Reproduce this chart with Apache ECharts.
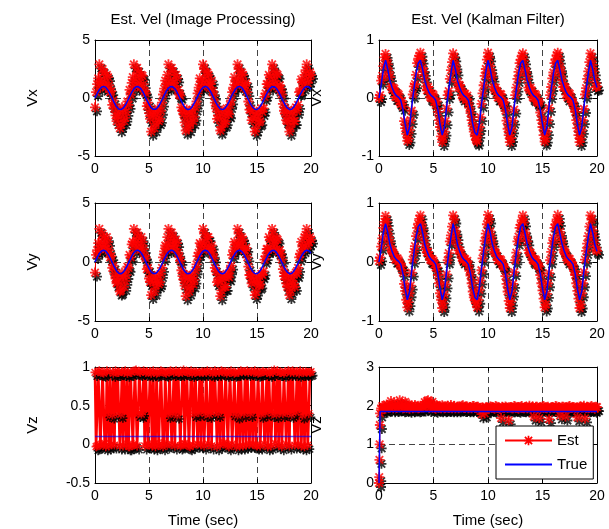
<!DOCTYPE html>
<html>
<head>
<meta charset="utf-8">
<title>Est. Vel</title>
<script src="https://cdn.jsdelivr.net/npm/echarts@6/dist/echarts.min.js"></script>
<style>
  html, body { margin: 0; padding: 0; background: #fff; }
  #chart { width: 609px; height: 529px; }
</style>
</head>
<body>
<div id="chart"></div>
<script>
// sample times (sec): even samples every 0.2 s, plus the in-between ones
const tAxis = [
  0, 0.2, 0.4, 0.6, 0.8, 1, 1.2, 1.4, 1.6, 1.8,
  2, 2.2, 2.4, 2.6, 2.8, 3, 3.2, 3.4, 3.6, 3.8,
  4, 4.2, 4.4, 4.6, 4.8, 5, 5.2, 5.4, 5.6, 5.8,
  6, 6.2, 6.4, 6.6, 6.8, 7, 7.2, 7.4, 7.6, 7.8,
  8, 8.2, 8.4, 8.6, 8.8, 9, 9.2, 9.4, 9.6, 9.8,
  10, 10.2, 10.4, 10.6, 10.8, 11, 11.2, 11.4, 11.6, 11.8,
  12, 12.2, 12.4, 12.6, 12.8, 13, 13.2, 13.4, 13.6, 13.8,
  14, 14.2, 14.4, 14.6, 14.8, 15, 15.2, 15.4, 15.6, 15.8,
  16, 16.2, 16.4, 16.6, 16.8, 17, 17.2, 17.4, 17.6, 17.8,
  18, 18.2, 18.4, 18.6, 18.8, 19, 19.2, 19.4, 19.6, 19.8,
  20
];
const tMid = [
  0.1, 0.3, 0.5, 0.7, 0.9, 1.1, 1.3, 1.5, 1.7, 1.9,
  2.1, 2.3, 2.5, 2.7, 2.9, 3.1, 3.3, 3.5, 3.7, 3.9,
  4.1, 4.3, 4.5, 4.7, 4.9, 5.1, 5.3, 5.5, 5.7, 5.9,
  6.1, 6.3, 6.5, 6.7, 6.9, 7.1, 7.3, 7.5, 7.7, 7.9,
  8.1, 8.3, 8.5, 8.7, 8.9, 9.1, 9.3, 9.5, 9.7, 9.9,
  10.1, 10.3, 10.5, 10.7, 10.9, 11.1, 11.3, 11.5, 11.7, 11.9,
  12.1, 12.3, 12.5, 12.7, 12.9, 13.1, 13.3, 13.5, 13.7, 13.9,
  14.1, 14.3, 14.5, 14.7, 14.9, 15.1, 15.3, 15.5, 15.7, 15.9,
  16.1, 16.3, 16.5, 16.7, 16.9, 17.1, 17.3, 17.5, 17.7, 17.9,
  18.1, 18.3, 18.5, 18.7, 18.9, 19.1, 19.3, 19.5, 19.7, 19.9
];
// start-up of the kalman Vz run is sampled densely
const tRise = [0, 0.02, 0.04, 0.06, 0.08];
const tEnds = [0, 20];

// tick labels
const xTicks = [0, 5, 10, 15, 20];
const ipTicks = [-5, 0, 5];
const kfTicks = [-1, 0, 1];
const ipZTicks = [-0.5, 0, 0.5, 1];
const kfZTicks = [0, 1, 2, 3];

// image processing: true Vx / Vy (same curve)
const ipTrue = [
  0.00, 0.39, 0.72, 0.93, 1.00, 0.91, 0.68, 0.34, -0.06, -0.44,
  -0.76, -0.95, -1.00, -0.88, -0.63, -0.28, 0.12, 0.49, 0.79, 0.97,
  0.99, 0.86, 0.59, 0.22, -0.18, -0.54, -0.83, -0.98, -0.98, -0.82,
  -0.54, -0.17, 0.23, 0.59, 0.86, 0.99, 0.97, 0.79, 0.49, 0.11,
  -0.29, -0.64, -0.89, -1.00, -0.95, -0.75, -0.43, -0.05, 0.34, 0.68,
  0.91, 1.00, 0.93, 0.71, 0.38, -0.01, -0.40, -0.72, -0.94, -1.00,
  -0.91, -0.67, -0.33, 0.07, 0.45, 0.76, 0.95, 1.00, 0.88, 0.62,
  0.27, -0.13, -0.50, -0.80, -0.97, -0.99, -0.85, -0.58, -0.21, 0.18,
  0.55, 0.83, 0.98, 0.98, 0.82, 0.53, 0.16, -0.24, -0.60, -0.86,
  -0.99, -0.97, -0.79, -0.48, -0.10, 0.30, 0.64, 0.89, 1.00, 0.95,
  0.75
];
const ipVxEst = [
  -0.8, 1.2, 2.9, 1.4, 2.2, 0.9, 1.8, 0.5, -0.6, -0.9,
  -2.0, -1.3, -2.3, -1.0, -1.7, -0.3, 0.7, 1.3, 2.9, 1.6,
  2.2, 0.9, 1.9, 0.6, -0.7, -1.3, -2.9, -1.5, -2.2, -0.9,
  -1.8, -0.4, 0.8, 1.2, 2.9, 1.5, 2.3, 1.0, 1.7, 0.3,
  -0.8, -1.4, -2.8, -1.6, -2.2, -1.0, -1.6, -0.3, 0.9, 1.4,
  2.9, 1.6, 2.2, 0.9, 1.5, 0.2, -0.9, -1.5, -2.8, -1.7,
  -2.2, -0.9, -1.4, -0.2, 0.9, 1.4, 2.9, 1.7, 2.2, 0.9,
  1.3, -0.3, -1.0, -1.7, -2.9, -1.6, -2.1, -0.9, -0.9, 0.4,
  1.2, 1.8, 2.9, 1.5, 2.1, 0.8, 0.8, -0.5, -1.3, -2.0,
  -2.9, -1.5, -2.0, -0.8, -0.6, 0.6, 1.4, 2.0, 2.9, 1.6,
  2.0
];
const ipVxEstMid = [
  0.5, 1.7, 1.0, 2.5, 1.3, 2.0, 1.1, 0.6, -0.2, -1.5,
  -1.6, -2.6, -0.8, -2.0, -1.2, -0.6, 0.3, 1.8, 1.0, 2.6,
  1.3, 2.0, 1.2, 0.4, -0.4, -1.8, -1.1, -2.6, -1.4, -2.0,
  -1.1, 0.3, 1.5, 2.0, 1.0, 2.6, 1.3, 2.0, 0.7, 0.2,
  -1.1, -2.1, -1.0, -2.6, -1.3, -2.0, -0.8, 0.4, 1.7, 1.0,
  2.5, 1.2, 2.0, 1.2, 0.6, -0.4, -1.8, -1.0, -2.5, -1.2,
  -2.0, -1.3, -0.6, 0.5, 1.8, 1.1, 2.5, 1.3, 2.0, 1.1,
  0.5, -1.0, -1.9, -1.1, -2.6, -1.3, -2.0, -1.2, 0.1, 1.2,
  2.0, 1.0, 2.5, 1.2, 2.0, 1.1, 0.3, -1.1, -1.9, -1.0,
  -2.5, -1.2, -2.0, -1.1, 0.5, 1.6, 1.0, 2.4, 1.3, 2.2
];
const ipVyEst = [
  -0.9, 1.0, 2.8, 1.6, 2.0, 1.1, 1.7, 0.4, -0.5, -1.0,
  -1.8, -1.2, -2.4, -1.2, -1.6, -0.4, 0.6, 1.5, 2.8, 1.7,
  2.1, 1.0, 1.7, 0.5, -0.6, -1.4, -2.8, -1.6, -2.0, -1.1,
  -1.7, -0.5, 0.9, 1.3, 2.8, 1.7, 2.1, 1.1, 1.6, 0.4,
  -0.7, -1.5, -2.9, -1.4, -2.1, -1.1, -1.5, -0.2, 0.8, 1.5,
  2.8, 1.7, 2.1, 1.0, 1.4, 0.3, -0.8, -1.6, -2.9, -1.5,
  -2.1, -1.0, -1.3, -0.3, 1.0, 1.5, 2.8, 1.6, 2.1, 1.0,
  1.2, -0.4, -1.1, -1.6, -2.8, -1.7, -2.0, -1.0, -0.8, 0.5,
  1.1, 1.9, 2.8, 1.6, 2.0, 0.9, 0.7, -0.6, -1.2, -2.1,
  -2.8, -1.6, -1.9, -0.9, -0.5, 0.7, 1.3, 2.1, 2.8, 1.7,
  1.9
];
const ipVyEstMid = [
  0.6, 1.6, 1.1, 2.4, 1.4, 2.1, 1.0, 0.5, -0.3, -1.4,
  -1.7, -2.5, -0.9, -2.1, -1.1, -0.5, 0.4, 1.7, 1.1, 2.5,
  1.4, 2.1, 1.1, 0.3, -0.5, -1.7, -1.2, -2.5, -1.5, -1.9,
  -1.0, 0.4, 1.4, 2.1, 1.1, 2.5, 1.4, 1.9, 0.8, 0.1,
  -1.2, -2.0, -1.1, -2.5, -1.4, -1.9, -0.7, 0.5, 1.6, 1.1,
  2.4, 1.3, 2.1, 1.1, 0.7, -0.5, -1.7, -1.1, -2.4, -1.3,
  -2.1, -1.2, -0.7, 0.6, 1.7, 1.2, 2.4, 1.4, 1.9, 1.0,
  0.4, -1.1, -1.8, -1.2, -2.5, -1.4, -1.9, -1.1, 0.2, 1.1,
  2.1, 1.1, 2.4, 1.3, 1.9, 1.0, 0.2, -1.2, -1.8, -1.1,
  -2.4, -1.3, -2.1, -1.0, 0.4, 1.7, 1.1, 2.3, 1.4, 2.1
];
const ipVzTrue = [0.1, 0.1];
const ipVzEst = [
  0.93, -0.02, 0.95, 0.00, 0.92, -0.03, 0.40, 0.94, 0.38, -0.01,
  0.41, 0.93, 0.39, -0.02, 0.95, 0.92, -0.03, 0.93, 0.00, 0.96,
  0.40, 0.93, 0.42, -0.02, 0.94, -0.01, 0.92, 0.95, -0.03, 0.93,
  0.00, 0.94, 0.02, 0.92, 0.39, 0.95, 0.41, -0.02, 0.38, 0.93,
  -0.01, 0.96, 0.00, 0.93, -0.03, 0.92, 0.40, 0.94, 0.41, 0.00,
  0.93, 0.40, 0.95, 0.39, -0.02, 0.42, 0.93, 0.40, -0.01, 0.94,
  0.02, 0.92, -0.03, 0.95, 0.41, 0.93, 0.38, -0.02, 0.94, 0.40,
  -0.01, 0.93, 0.40, 0.00, 0.95, -0.02, 0.93, 0.39, 0.94, 0.41,
  -0.03, 0.92, 0.40, 0.96, 0.39, -0.01, 0.93, 0.40, 0.94, 0.41,
  -0.02, 0.39, 0.93, 0.42, 0.00, 0.95, 0.38, -0.03, 0.93, 0.40,
  0.94
];
const ipVzEstMid = [
  -0.03, 0.94, -0.01, 0.93, 0.01, 0.95, -0.02, 0.00, 0.92, 0.95,
  0.93, -0.02, 0.94, 0.93, 0.01, -0.03, 0.94, -0.01, 0.95, -0.02,
  0.94, 0.39, 0.95, 0.93, 0.00, 0.94, -0.02, 0.01, 0.92, -0.01,
  0.95, -0.03, 0.93, -0.01, 0.94, 0.00, 0.93, 0.95, 0.93, -0.02,
  0.93, 0.01, 0.94, -0.02, 0.95, -0.01, 0.93, 0.00, 0.93, 0.94,
  -0.02, 0.93, 0.00, 0.94, 0.92, 0.95, -0.03, 0.93, 0.95, 0.01,
  0.94, -0.01, 0.93, 0.00, 0.92, -0.03, 0.93, 0.95, -0.02, 0.94,
  0.95, 0.00, 0.94, 0.93, -0.01, 0.92, -0.02, 0.94, 0.00, 0.93,
  0.94, -0.02, 0.93, 0.01, 0.95, 0.93, -0.03, 0.92, 0.00, 0.95,
  0.93, 0.95, -0.01, 0.94, 0.92, -0.02, 0.93, 0.94, -0.01, 0.93
];

// kalman filter: true Vx / Vy (same curve)
const kfTrue = [
  0.00, 0.22, 0.50, 0.65, 0.50, 0.30, 0.18, 0.09, 0.04, 0.01,
  -0.04, -0.20, -0.45, -0.64, -0.50, -0.15, 0.15, 0.42, 0.60, 0.65,
  0.50, 0.30, 0.18, 0.09, 0.04, 0.01, -0.04, -0.20, -0.45, -0.64,
  -0.50, -0.15, 0.15, 0.42, 0.65, 0.50, 0.30, 0.18, 0.09, 0.04,
  0.01, -0.04, -0.20, -0.45, -0.60, -0.64, -0.45, -0.12, 0.18, 0.45,
  0.65, 0.50, 0.30, 0.18, 0.09, 0.04, 0.01, -0.04, -0.20, -0.45,
  -0.64, -0.50, -0.15, 0.15, 0.42, 0.60, 0.65, 0.48, 0.30, 0.18,
  0.09, 0.04, 0.01, -0.04, -0.20, -0.45, -0.64, -0.50, -0.15, 0.15,
  0.42, 0.60, 0.65, 0.48, 0.30, 0.18, 0.09, 0.04, 0.01, -0.04,
  -0.20, -0.45, -0.64, -0.50, -0.15, 0.15, 0.42, 0.65, 0.50, 0.30,
  0.18
];
const kfVxEst = [
  0.00, 0.30, 0.55, 0.76, 0.58, 0.36, 0.15, 0.16, 0.02, 0.06,
  -0.10, -0.15, -0.52, -0.74, -0.55, -0.22, 0.20, 0.40, 0.68, 0.78,
  0.52, 0.34, 0.13, 0.14, 0.00, 0.05, -0.12, -0.24, -0.50, -0.76,
  -0.58, -0.18, 0.12, 0.48, 0.77, 0.56, 0.28, 0.22, 0.05, 0.08,
  -0.03, -0.08, -0.26, -0.48, -0.66, -0.75, -0.50, -0.10, 0.22, 0.50,
  0.78, 0.55, 0.35, 0.14, 0.12, 0.01, 0.06, -0.10, -0.22, -0.53,
  -0.76, -0.54, -0.20, 0.18, 0.45, 0.66, 0.77, 0.52, 0.33, 0.14,
  0.13, 0.00, 0.05, -0.09, -0.25, -0.50, -0.75, -0.57, -0.17, 0.19,
  0.44, 0.67, 0.78, 0.53, 0.31, 0.20, 0.06, 0.09, -0.02, -0.08,
  -0.24, -0.52, -0.76, -0.55, -0.19, 0.17, 0.46, 0.77, 0.57, 0.33,
  0.20
];
const kfVxEstMid = [
  0.05, 0.38, 0.70, 0.66, 0.45, 0.20, 0.18, 0.02, 0.08, -0.06,
  -0.05, -0.40, -0.62, -0.70, -0.38, 0.06, 0.24, 0.60, 0.72, 0.66,
  0.45, 0.20, 0.19, 0.02, 0.07, -0.06, -0.06, -0.38, -0.66, -0.68,
  -0.40, 0.05, 0.33, 0.62, 0.70, 0.46, 0.18, 0.17, 0.01, 0.07,
  0.04, -0.17, -0.38, -0.58, -0.72, -0.62, -0.33, 0.08, 0.38, 0.66,
  0.70, 0.44, 0.19, 0.18, 0.01, 0.07, -0.06, -0.07, -0.39, -0.64,
  -0.69, -0.39, 0.05, 0.33, 0.60, 0.73, 0.65, 0.44, 0.18, 0.18,
  0.02, 0.07, -0.06, -0.06, -0.38, -0.64, -0.70, -0.38, 0.05, 0.34,
  0.60, 0.74, 0.66, 0.44, 0.19, 0.18, 0.01, 0.07, -0.06, -0.17,
  -0.38, -0.64, -0.70, -0.38, 0.06, 0.33, 0.62, 0.70, 0.46, 0.19
];
const kfVyEst = [
  0.02, 0.26, 0.58, 0.78, 0.55, 0.33, 0.19, 0.12, 0.05, 0.03,
  -0.07, -0.18, -0.49, -0.77, -0.53, -0.18, 0.17, 0.44, 0.65, 0.79,
  0.55, 0.31, 0.16, 0.11, 0.03, 0.02, -0.09, -0.22, -0.53, -0.78,
  -0.55, -0.21, 0.15, 0.45, 0.79, 0.53, 0.32, 0.19, 0.07, 0.06,
  0.00, -0.06, -0.23, -0.50, -0.64, -0.77, -0.47, -0.14, 0.20, 0.48,
  0.80, 0.52, 0.33, 0.17, 0.10, 0.04, 0.03, -0.07, -0.24, -0.50,
  -0.78, -0.52, -0.17, 0.16, 0.43, 0.63, 0.79, 0.50, 0.35, 0.16,
  0.11, 0.02, 0.03, -0.06, -0.22, -0.48, -0.77, -0.54, -0.19, 0.17,
  0.41, 0.64, 0.80, 0.51, 0.33, 0.18, 0.08, 0.06, 0.00, -0.06,
  -0.22, -0.49, -0.78, -0.53, -0.17, 0.19, 0.44, 0.79, 0.54, 0.31,
  0.19
];
const kfVyEstMid = [
  0.08, 0.40, 0.68, 0.68, 0.42, 0.22, 0.16, 0.04, 0.06, -0.04,
  -0.08, -0.37, -0.64, -0.68, -0.40, 0.04, 0.27, 0.58, 0.73, 0.64,
  0.43, 0.22, 0.17, 0.04, 0.05, -0.04, -0.09, -0.36, -0.64, -0.70,
  -0.38, 0.03, 0.35, 0.60, 0.72, 0.44, 0.20, 0.15, 0.03, 0.05,
  0.02, -0.15, -0.36, -0.60, -0.70, -0.64, -0.31, 0.06, 0.36, 0.64,
  0.72, 0.42, 0.21, 0.16, 0.03, 0.05, -0.04, -0.09, -0.37, -0.66,
  -0.67, -0.37, 0.03, 0.35, 0.58, 0.71, 0.67, 0.42, 0.20, 0.16,
  0.04, 0.05, -0.04, -0.08, -0.36, -0.62, -0.72, -0.36, 0.03, 0.32,
  0.58, 0.72, 0.68, 0.42, 0.21, 0.16, 0.03, 0.05, -0.04, -0.15,
  -0.36, -0.62, -0.72, -0.36, 0.04, 0.31, 0.60, 0.72, 0.44, 0.21
];
const tKfVzTrue = [0, 0.1, 20];
const kfVzTrue = [0, 1.85, 1.85];
const kfVzRise = [0.00, 0.15, 0.60, 1.00, 1.50];
// t = 0.2 .. 20
const kfVzEst = [
  1.93, 1.97, 1.92, 2.02, 1.95, 1.99, 2.08, 1.94, 1.98, 2.05,
  1.93, 2.10, 1.96, 1.92, 2.01, 1.95, 1.98, 1.93, 2.00, 1.96,
  2.09, 2.12, 1.94, 2.06, 1.97, 1.92, 1.99, 1.95, 2.01, 1.93,
  1.97, 1.94, 2.02, 1.96, 1.93, 1.98, 1.95, 2.00, 1.94, 1.97,
  1.93, 1.96, 1.99, 1.94, 1.97, 1.92, 1.78, 1.93, 1.96, 1.94,
  1.98, 1.95, 1.92, 1.97, 1.93, 1.68, 1.95, 1.98, 1.94, 1.96,
  1.93, 1.99, 1.95, 1.92, 1.97, 1.94, 1.96, 1.93, 2.00, 1.95,
  1.72, 1.97, 1.94, 1.92, 1.98, 1.95, 1.93, 1.65, 1.96, 1.94,
  1.99, 1.93, 1.75, 1.97, 1.95, 1.92, 1.98, 1.94, 1.96, 1.93,
  1.70, 1.97, 1.95, 2.00, 1.94, 1.93, 1.97, 1.95, 1.92, 1.96
];
// t = 0.1 .. 19.9
const kfVzEstMid = [
  1.80, 1.99, 1.94, 2.03, 1.96, 2.12, 1.93, 2.00, 1.95, 2.14,
  1.97, 1.94, 2.06, 1.95, 1.99, 1.93, 2.02, 1.96, 1.94, 1.99,
  1.95, 2.03, 2.14, 1.96, 2.10, 1.94, 2.02, 1.97, 1.93, 1.98,
  1.94, 2.00, 1.95, 1.93, 1.99, 1.96, 1.93, 1.97, 2.01, 1.94,
  1.98, 1.95, 1.93, 1.99, 1.95, 1.97, 1.93, 1.96, 1.80, 1.95,
  1.93, 1.97, 1.94, 1.99, 1.95, 1.92, 1.97, 1.94, 1.96, 1.62,
  1.96, 1.93, 1.98, 1.94, 1.96, 1.99, 1.93, 1.97, 1.95, 1.93,
  1.98, 1.94, 1.97, 1.68, 1.95, 1.99, 1.94, 1.97, 1.93, 1.96,
  1.94, 1.98, 1.95, 1.93, 1.97, 1.72, 1.95, 1.99, 1.94, 1.96,
  1.95, 1.93, 1.98, 1.95, 1.67, 1.96, 1.94, 1.99, 1.95, 1.97
];

const font = 'Liberation Sans, Arial, Helvetica, sans-serif';
// MATLAB style asterisk marker
const star = 'path://M4.1 0L5.9 0L5.9 10L4.1 10Z M0 4.1L10 4.1L10 5.9L0 5.9Z ' +
  'M0.6 1.9L1.9 0.6L9.4 8.1L8.1 9.4Z M8.1 0.6L9.4 1.9L1.9 9.4L0.6 8.1Z';

const cols = [{ left: 95, width: 216 }, { left: 379, width: 218 }];
const rows = [{ top: 40, height: 116 }, { top: 203, height: 118 }, { top: 367, height: 118 }];

const pairs = (t, v) => t.map((x, i) => [x, v[i]]);
// even + in-between samples, in time order
const merged = (t1, v1, t2, v2) => pairs(t1, v1).concat(pairs(t2, v2)).sort((a, b) => a[0] - b[0]);

const panels = [
  { row: 0, col: 0, ticks: ipTicks, name: 'Vx', est: merged(tAxis, ipVxEst, tMid, ipVxEstMid), truth: pairs(tAxis, ipTrue), size: 10, lw: 1 },
  { row: 0, col: 1, ticks: kfTicks, name: 'Vx', est: merged(tAxis, kfVxEst, tMid, kfVxEstMid), truth: pairs(tAxis, kfTrue), size: 10, lw: 1.2 },
  { row: 1, col: 0, ticks: ipTicks, name: 'Vy', est: merged(tAxis, ipVyEst, tMid, ipVyEstMid), truth: pairs(tAxis, ipTrue), size: 10, lw: 1 },
  { row: 1, col: 1, ticks: kfTicks, name: 'Vy', est: merged(tAxis, kfVyEst, tMid, kfVyEstMid), truth: pairs(tAxis, kfTrue), size: 10, lw: 1.2 },
  { row: 2, col: 0, ticks: ipZTicks, name: 'Vz', est: merged(tAxis, ipVzEst, tMid, ipVzEstMid), truth: pairs(tEnds, ipVzTrue), size: 9, lw: 2.6, trueOpacity: 0.65 },
  { row: 2, col: 1, ticks: kfZTicks, name: 'Vz',
    est: merged(tRise.concat(tAxis.slice(1)), kfVzRise.concat(kfVzEst), tMid, kfVzEstMid),
    truth: pairs(tKfVzTrue, kfVzTrue), size: 10, lw: 1.2 }
];

const tickStyle = { show: true, inside: true, length: 4, lineStyle: { color: '#000' } };
const frame = { show: true, onZero: false, lineStyle: { color: '#000', width: 1 } };
const dashed = { show: true, lineStyle: { color: '#444', type: [6, 4], width: 1 } };

const grid = [], xAxis = [], yAxis = [], series = [];
panels.forEach((p, i) => {
  grid.push({ left: cols[p.col].left, width: cols[p.col].width, top: rows[p.row].top, height: rows[p.row].height });
  const xr = { min: xTicks[0], max: xTicks[xTicks.length - 1], interval: xTicks[1] - xTicks[0] };
  const yr = { min: p.ticks[0], max: p.ticks[p.ticks.length - 1], interval: p.ticks[1] - p.ticks[0] };
  xAxis.push({
    gridIndex: i, type: 'value', position: 'bottom', ...xr,
    axisLine: frame, axisTick: tickStyle, splitLine: dashed,
    axisLabel: { color: '#000', fontSize: 14, fontFamily: font, margin: 6 },
    name: p.row === 2 ? 'Time (sec)' : '', nameLocation: 'middle', nameGap: 30,
    nameTextStyle: { color: '#000', fontSize: 15, fontFamily: font }
  });
  xAxis.push({
    gridIndex: i, type: 'value', position: 'top', ...xr,
    axisLine: frame, axisTick: tickStyle, splitLine: { show: false }, axisLabel: { show: false }
  });
  yAxis.push({
    gridIndex: i, type: 'value', position: 'left', ...yr,
    axisLine: frame, axisTick: tickStyle, splitLine: dashed,
    axisLabel: { color: '#000', fontSize: 14, fontFamily: font, margin: 5 },
    name: p.name, nameLocation: 'middle', nameGap: 55,
    nameTextStyle: { color: '#000', fontSize: 15, fontFamily: font }
  });
  yAxis.push({
    gridIndex: i, type: 'value', position: 'right', ...yr,
    axisLine: frame, axisTick: tickStyle, splitLine: { show: false }, axisLabel: { show: false }
  });
  const ax = { xAxisIndex: 2 * i, yAxisIndex: 2 * i };
  series.push({
    type: 'line', ...ax, data: p.est, symbol: 'none', z: 2,
    lineStyle: { color: '#ff0000', width: p.lw }
  });
  series.push({
    type: 'scatter', ...ax, data: p.est, symbol: star, symbolSize: p.size,
    symbolOffset: [2, 4], itemStyle: { color: '#000' }, z: 3
  });
  series.push({
    type: 'scatter', ...ax, data: p.est, symbol: star, symbolSize: p.size,
    itemStyle: { color: '#ff0000' }, z: 4
  });
  series.push({
    type: 'line', ...ax, data: p.truth, symbol: 'none', z: 5,
    lineStyle: { color: '#0000ff', width: 1.5, opacity: p.trueOpacity || 1 }
  });
});

// legend-only entries (no data)
series.push({
  name: 'Est', type: 'line', xAxisIndex: 10, yAxisIndex: 10, data: [],
  symbol: star, symbolSize: 9, itemStyle: { color: '#ff0000' }, lineStyle: { color: '#ff0000', width: 1 }
});
series.push({
  name: 'True', type: 'line', xAxisIndex: 10, yAxisIndex: 10, data: [],
  symbol: 'none', itemStyle: { color: '#0000ff' }, lineStyle: { color: '#0000ff', width: 1.5 }
});

const chart = echarts.init(document.getElementById('chart'), null, { renderer: 'canvas' });
chart.setOption({
  animation: false,
  backgroundColor: '#fff',
  title: [
    { text: 'Est. Vel (Image Processing)', left: 203, top: 12, textAlign: 'center', padding: 0,
      textStyle: { color: '#000', fontSize: 15, fontWeight: 'normal', fontFamily: font } },
    { text: 'Est. Vel (Kalman Filter)', left: 488, top: 12, textAlign: 'center', padding: 0,
      textStyle: { color: '#000', fontSize: 15, fontWeight: 'normal', fontFamily: font } }
  ],
  legend: {
    data: ['Est', { name: 'True', itemStyle: { opacity: 0 } }],
    orient: 'vertical', left: 496, top: 426,
    itemWidth: 47, itemHeight: 12, itemGap: 9, padding: [7, 6, 7, 8],
    backgroundColor: '#fff', borderColor: '#000', borderWidth: 1, borderRadius: 0,
    selectedMode: false, textStyle: { color: '#000', fontSize: 15, fontFamily: font }
  },
  grid, xAxis, yAxis, series
});
</script>
</body>
</html>
